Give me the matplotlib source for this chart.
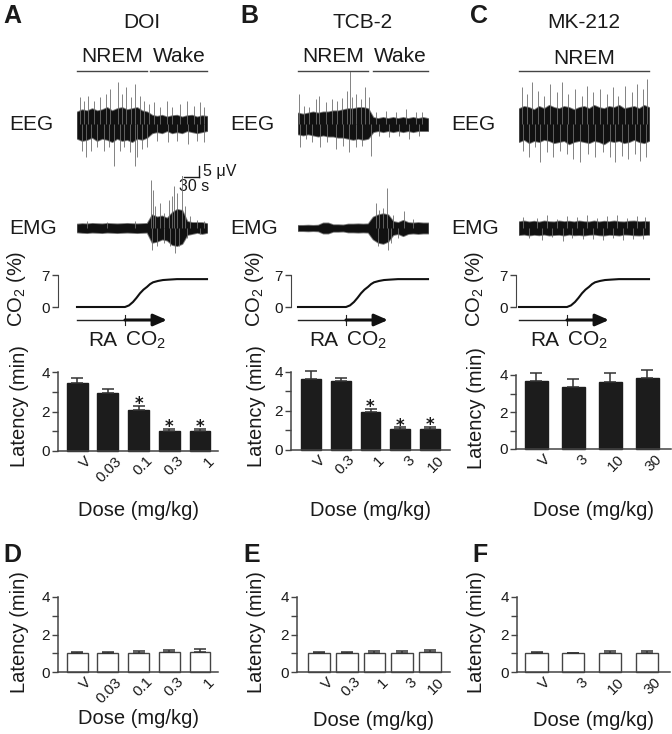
import matplotlib
matplotlib.use('Agg')
import matplotlib.pyplot as plt
import numpy as np
from matplotlib.transforms import ScaledTranslation

plt.rcParams['font.family'] = ['Liberation Sans', 'DejaVu Sans']
plt.rcParams['mathtext.fontset'] = 'custom'
plt.rcParams['mathtext.rm'] = 'Liberation Sans'
plt.rcParams['mathtext.it'] = 'Liberation Sans:italic'

# ---------------- data ----------------
drugs = ['DOI', 'TCB-2', 'MK-212']
doses_A = ['V', '0.03', '0.1', '0.3', '1']
doses_B = ['V', '0.3', '1', '3', '10']
doses_C = ['V', '3', '10', '30']

lat_A = [3.42, 2.96, 2.08, 0.99, 1.00]
err_A = [0.30, 0.17, 0.20, 0.11, 0.13]
sig_A = [0, 0, 1, 1, 1]
lat_B = [3.64, 3.52, 1.97, 1.06, 1.07]
err_B = [0.42, 0.16, 0.15, 0.10, 0.11]
sig_B = [0, 0, 1, 1, 1]
lat_C = [3.68, 3.37, 3.64, 3.85]
err_C = [0.41, 0.41, 0.45, 0.42]
sig_C = [0, 0, 0, 0]
lat_D = [1.00, 1.00, 1.00, 1.05, 1.08]
err_D = [0.07, 0.06, 0.12, 0.12, 0.15]
lat_E = [1.00, 1.00, 1.00, 1.03, 1.07]
err_E = [0.07, 0.05, 0.10, 0.08, 0.09]
lat_F = [1.00, 1.00, 1.00, 1.03]
err_F = [0.05, 0.04, 0.10, 0.09]

# CO2 challenge profile (s, %)
co2_t = [0, 96, 104, 112, 119, 126, 133, 140, 146, 152, 162, 172, 185, 200, 260]
co2_v = [0, 0, 0.35, 1.1, 2.0, 3.0, 3.8, 4.4, 5.0, 5.4, 5.7, 5.9, 6.0, 6.1, 6.1]

# trace envelopes and excursions (s, uV)
trace_t = list(range(0, 261, 10))
A_eeg_hi = [5.5, 6.5, 6.0, 7.0, 6.0, 6.5, 7.5, 6.0, 7.0, 7.5, 6.5, 7.0, 7.5, 6.0, 5.5, 4.0, 3.5, 4.0, 3.2, 3.8, 4.0, 3.2, 3.8, 4.0, 3.2, 3.8, 3.5]
A_eeg_lo = [-6.5, -7.5, -7.0, -6.0, -7.5, -6.5, -7.0, -8.0, -6.5, -7.5, -7.0, -8.0, -6.5, -7.0, -6.0, -4.0, -3.5, -4.0, -3.0, -4.0, -3.5, -4.0, -3.0, -3.5, -4.0, -3.5, -3.0]
A_eeg_spk_t = [6.7, 13.3, 21.3, 33.3, 46.7, 58.7, 66.7, 81.3, 90, 98.7, 108, 116.7, 126.7, 134.7, 143.3,
               154.7, 166.7, 180, 190, 206.7, 220, 233.3, 245.3, 254.7,
               10, 18.7, 28, 40, 53.3, 63.3, 73.3, 85.3, 94.7, 105.3, 115.3, 120, 130, 140,
               160, 181, 200, 221, 240, 253.3]
A_eeg_spk_v = [12.1, 10.6, 12.9, 10.6, 12.1, 13.6, 15.9, 18.9, 13.6, 17.0, 12.1, 18.2, 12.9, 10.6, 9.0,
               9.8, 7.6, 10.6, 7.6, 9.0, 10.6, 8.3, 9.8, 7.6,
               -12.1, -15.2, -12.1, -10.6, -12.1, -10.6, -18.9, -12.1, -10.6, -12.9, -18.9, -15.2, -11.4, -10.6,
               -7.6, -8.3, -7.6, -9.0, -7.6, -8.3]
B_eeg_hi = [5.0, 4.5, 5.0, 5.5, 5.0, 5.5, 5.5, 6.0, 6.0, 6.5, 7.0, 7.0, 7.5, 7.5, 7.0, 3.0, 2.5, 3.0, 2.5, 3.0, 2.5, 3.0, 2.5, 3.0, 2.5, 3.0, 2.5]
B_eeg_lo = [-4.5, -5.0, -4.5, -5.0, -5.5, -5.0, -5.5, -5.5, -6.0, -6.0, -6.5, -7.0, -6.5, -7.0, -6.5, -3.5, -3.0, -3.5, -3.0, -3.5, -3.0, -3.5, -3.0, -3.5, -3.0, -3.0, -3.0]
B_eeg_spk_t = [2, 12, 22, 35.3, 42, 55.3, 68.7, 78.7, 88.7, 98.7, 103.3, 108.7, 116.7, 125.3, 133.3, 142,
               155.3, 175.3, 195.3, 215.3, 235.3, 248.7,
               3, 15.3, 28.7, 43, 58.7, 75.3, 89.7, 102, 115.3, 128.7, 145.3, 162, 182, 202, 222, 242]
B_eeg_spk_v = [13.6, 8.3, 7.6, 11.4, 12.9, 9.8, 11.4, 10.6, 12.0, 15.0, 24.0, 12.1, 13.6, 11.4, 16.7, 12.1,
               5.3, 6.0, 5.3, 6.8, 5.3, 5.3,
               -10.6, -6.8, -8.3, -10.6, -8.3, -11.4, -9.8, -12.6, -10.6, -9.8, -14.4, -5.3, -6.0, -5.3, -6.8, -5.3]
C_eeg_hi = [7.0, 8.0, 7.5, 6.5, 8.0, 7.0, 8.5, 7.5, 7.0, 8.0, 7.5, 6.5, 7.5, 8.0, 7.0, 8.5, 7.5, 7.0, 8.0, 7.5, 8.5, 7.0, 7.5, 8.0, 7.0, 8.5, 7.5]
C_eeg_lo = [-8.0, -7.0, -8.5, -7.5, -8.0, -7.0, -7.5, -8.5, -8.0, -7.5, -9.0, -8.0, -7.5, -8.0, -8.5, -7.5, -8.0, -9.0, -7.5, -8.0, -7.5, -8.5, -8.0, -7.0, -8.0, -8.5, -7.5]
C_eeg_spk_t = [5.3, 16.7, 25.3, 38.7, 50, 62, 75.3, 85.3, 98.7, 112, 125.3, 135.3, 148.7, 162, 175.3, 188.7,
               198.7, 212, 225.3, 236.7, 248.7, 256.7,
               8.7, 20.7, 32, 42, 55.3, 68.7, 82, 95.3, 108.7, 122, 138.7, 152, 168.7, 182, 192, 205.3,
               218.7, 232, 242, 254, 259.3]
C_eeg_spk_v = [16.7, 13.6, 18.9, 15.2, 12.9, 18.2, 14.4, 18.9, 13.6, 15.9, 12.9, 17.4, 14.4, 15.9, 13.6, 16.7,
               12.9, 17.4, 14.4, 18.2, 15.9, 20.5,
               -12.1, -15.2, -10.6, -17.4, -12.9, -15.2, -12.1, -13.6, -15.9, -17.4, -13.6, -15.2, -12.9,
               -15.2, -17.4, -14.4, -15.9, -13.6, -16.7, -15.2, -18.2]

A_emg_hi = [1.8, 2.0, 1.9, 2.1, 2.0, 1.9, 2.1, 2.0, 1.9, 2.0, 2.1, 2.0, 1.9, 2.0, 2.1, 6.0, 5.0, 5.5, 4.5, 7.0, 8.5, 8.0, 3.0, 2.5, 2.5, 2.5, 2.0]
A_emg_lo = [-1.8, -2.0, -2.1, -1.9, -2.0, -2.1, -1.9, -2.0, -2.1, -2.0, -1.9, -2.0, -2.1, -2.0, -1.9, -6.5, -6.0, -5.0, -5.5, -7.5, -8.0, -7.0, -3.0, -2.5, -2.0, -2.5, -2.0]
A_emg_spk_t = [148, 152, 156.7, 166.7, 173.3, 183.3, 190, 194.7, 200, 210, 216.7, 226.7, 240, 254.7,
               20, 60, 115, 150, 160, 173.3, 186.7, 196.7, 203.3, 220, 246.7]
A_emg_spk_v = [22.0, 17.4, 9.8, 11.4, 6.8, 12.9, 14.4, 18.9, 15.9, 24.2, 9.8, 5.3, 3.8, 3.3,
               3.0, 2.8, 3.2, -9.8, -8.3, -6.8, -8.3, -11.4, -8.3, -4.5, -2.8]
B_emg_hi = [1.2, 1.2, 1.3, 1.2, 1.3, 2.3, 2.3, 1.5, 1.5, 1.4, 1.8, 1.8, 1.9, 1.8, 1.9, 5.0, 6.0, 6.5, 6.0, 3.0, 2.5, 3.5, 2.5, 2.3, 2.5, 2.3, 2.3]
B_emg_lo = [-1.2, -1.2, -1.3, -1.2, -1.3, -2.3, -2.3, -1.5, -1.5, -1.4, -1.8, -1.8, -1.9, -1.8, -1.9, -5.0, -6.5, -7.0, -6.0, -3.0, -2.5, -3.5, -2.5, -2.3, -2.5, -2.3, -2.3]
B_emg_spk_t = [155.3, 162, 170, 178.7, 179.5, 190, 212, 230, 160, 185, 200]
B_emg_spk_v = [11.4, 8.0, 9.0, 18.0, -10.0, 6.0, 7.6, 4.0, -8.3, -7.0, -4.5]
C_emg_hi = [2.9, 3.2, 2.8, 3.1, 2.7, 3.2, 2.9, 2.8, 3.2, 2.9, 3.1, 2.8, 3.2, 2.9, 2.8, 3.2, 2.8, 3.1, 2.9, 3.2, 2.9, 2.8, 3.1, 3.2, 2.9, 3.0, 2.9]
C_emg_lo = [-3.0, -2.8, -3.2, -2.9, -3.1, -2.8, -3.2, -3.0, -2.9, -3.2, -2.8, -3.1, -3.0, -3.2, -2.9, -2.8, -3.1, -3.2, -2.9, -3.0, -3.2, -2.8, -2.9, -3.1, -3.2, -3.0, -2.9]
C_emg_spk_t = [8.7, 35.3, 55.3, 75.3, 95.3, 115.3, 135.3, 155.3, 175.3, 195.3, 215.3, 235.3, 252,
               20, 45, 65, 88, 105, 128, 148, 168, 188, 208, 228, 248]
C_emg_spk_v = [5.0, 4.5, 5.8, 4.2, 5.3, 4.8, 6.0, 4.5, 5.3, 5.8, 4.5, 5.3, 4.8,
               -4.5, -5.3, -4.2, -5.8, -4.5, -5.0, -4.8, -5.5, -4.5, -5.3, -4.8, -5.0]

# ---------------- layout helpers ----------------
W, H = 672, 734
fig = plt.figure(figsize=(W / 100, H / 100), dpi=100)
TXT = '#1a1a1a'
AX = '#444444'


def px_axes(x0, y0, x1, y1):
    return fig.add_axes([x0 / W, 1 - y1 / H, (x1 - x0) / W, (y1 - y0) / H])


ov = fig.add_axes([0, 0, 1, 1])
ov.set_xlim(0, W)
ov.set_ylim(H, 0)
ov.axis('off')

PX_PER_UV = 2.2
HALF = 52


def trace(x0, yc, t, hi, lo, st, sv):
    ax = px_axes(x0, yc - HALF, x0 + 130, yc + HALF)
    ax.set_xlim(0, 260)
    ax.set_ylim(-HALF / PX_PER_UV, HALF / PX_PER_UV)
    ax.axis('off')
    ax.vlines(st, 0, sv, color='#6e6e6e', lw=0.6)
    ax.fill_between(t, lo, hi, color='#707070', lw=1.3, edgecolor='#7a7a7a')
    ax.fill_between(t, lo, hi, color='#111111', lw=0.0)
    return ax


trace_x0 = [77, 298, 519]
eeg_sets = [(A_eeg_hi, A_eeg_lo, A_eeg_spk_t, A_eeg_spk_v),
            (B_eeg_hi, B_eeg_lo, B_eeg_spk_t, B_eeg_spk_v),
            (C_eeg_hi, C_eeg_lo, C_eeg_spk_t, C_eeg_spk_v)]
emg_sets = [(A_emg_hi, A_emg_lo, A_emg_spk_t, A_emg_spk_v),
            (B_emg_hi, B_emg_lo, B_emg_spk_t, B_emg_spk_v),
            (C_emg_hi, C_emg_lo, C_emg_spk_t, C_emg_spk_v)]
co2_spine = [58, 291, 516]
label_x = [3, 240, 470]

for i in range(3):
    x0 = trace_x0[i]
    ov.text(label_x[i], 16, 'ABC'[i], fontsize=18, fontweight='bold', ha='left', va='center', color=TXT)
    ov.text(x0 + 65, 23, drugs[i], fontsize=15, ha='center', va='center', color=TXT)
    if i < 2:
        ov.plot([x0, x0 + 70], [71, 71], color=AX, lw=1)
        ov.plot([x0 + 75 if i == 1 else x0 + 73, x0 + 130], [71, 71], color=AX, lw=1)
        ov.text(x0 + 35, 57, 'NREM', fontsize=15, ha='center', va='center', color=TXT)
        ov.text(x0 + 102, 57, 'Wake', fontsize=15, ha='center', va='center', color=TXT)
    else:
        ov.plot([x0, x0 + 130], [71, 71], color=AX, lw=1)
        ov.text(x0 + 65, 58, 'NREM', fontsize=15, ha='center', va='center', color=TXT)
    ov.text(x0 - 46, 124, 'EEG', fontsize=15, ha='center', va='center', color=TXT)
    ov.text(x0 - 44, 228, 'EMG', fontsize=15, ha='center', va='center', color=TXT)

    eax = trace(x0, 124, trace_t, *eeg_sets[i])
    trace(x0, 228, trace_t, *emg_sets[i])

    if i == 0:
        # scale bar 5 uV / 30 s
        yb = -(177 - 124) / PX_PER_UV
        eax.plot([244, 244], [yb, yb + 5], color=TXT, lw=1, clip_on=False)
        eax.plot([214, 244], [yb, yb], color=TXT, lw=1, clip_on=False)
        eax.text(252, yb + 2.5, '5 \u03bcV', fontsize=11.5, ha='left', va='center', color=TXT, clip_on=False)
        eax.text(234, yb - 4.4, '30 s', fontsize=11.5, ha='center', va='center', color=TXT, clip_on=False)

    # CO2 panel
    sx = co2_spine[i]
    cax = px_axes(sx, 270, x0 + 130, 312)
    cax.set_xlim(-(x0 - sx) * 2, 260)
    cax.set_ylim(-5 / 4.57, 37 / 4.57)
    cax.plot(co2_t, co2_v, color='#111111', lw=1.5, clip_on=False)
    for s in ['top', 'right', 'bottom']:
        cax.spines[s].set_visible(False)
    cax.spines['left'].set_bounds(0, 7)
    cax.spines['left'].set_color(AX)
    cax.set_xticks([])
    cax.set_yticks([0, 7])
    cax.tick_params(axis='y', length=4, width=1, color=AX, labelsize=11, pad=2, labelcolor=TXT)
    cax.patch.set_alpha(0)
    fig.text([17, 254, 475][i] / W, 1 - 289 / H, r'CO$_2$ (%)', rotation=90, fontsize=14.5,
             ha='center', va='center', color=TXT)

    # RA -> CO2 arrow
    ov.plot([x0, x0 + 48], [320, 320], color='#222222', lw=1)
    ov.plot([x0 + 48, x0 + 48], [315, 325], color='#222222', lw=0.8)
    ov.annotate('', xy=(x0 + 90, 320), xytext=(x0 + 48, 320),
                arrowprops=dict(arrowstyle='-|>,head_length=0.8,head_width=0.35', lw=2.2, color='#111111',
                                shrinkA=0, shrinkB=0))
    ov.text(x0 + 26, 340, 'RA', fontsize=15, ha='center', va='center', color=TXT)
    ov.text(x0 + 68, 340, r'CO$_2$', fontsize=15, ha='center', va='center', color=TXT)


def bar_panel(rect, labels, vals, errs, sig, filled, xlim, width, ylab_xy, dose_y):
    ax = px_axes(*rect)
    x = np.arange(len(labels))
    if filled:
        ax.bar(x, vals, width=width, color='#1c1c1c', edgecolor='#1c1c1c', lw=1, zorder=2, clip_on=False)
    else:
        ax.bar(x, vals, width=width, color='white', edgecolor='#444444', lw=1, zorder=2, clip_on=False)
    ax.errorbar(x, vals, yerr=[np.zeros(len(vals)), errs], fmt='none', ecolor='#333333',
                elinewidth=1.1, capsize=4, capthick=1.1, zorder=3, clip_on=False)
    for xi, v, e, s in zip(x, vals, errs, sig):
        if s:
            ax.annotate('*', (xi, v + e), xytext=(0, -2.3), textcoords='offset points',
                        ha='center', va='baseline', fontsize=12, fontweight='bold',
                        family='DejaVu Sans', color=TXT)
    ax.set_xlim(*xlim)
    ax.set_ylim(0, 4)
    for s in ['top', 'right']:
        ax.spines[s].set_visible(False)
    for s in ['left', 'bottom']:
        ax.spines[s].set_color(AX)
        ax.spines[s].set_linewidth(1.1)
    ax.patch.set_alpha(0)
    ax.set_yticks([0, 2, 4])
    ax.set_yticks([1, 3], minor=True)
    ax.tick_params(axis='y', which='both', length=4, width=1, color=AX, labelsize=11, pad=2, labelcolor=TXT)
    ax.set_xticks(x)
    ax.set_xticklabels(labels, rotation=45, ha='right', va='top', rotation_mode='anchor')
    ax.tick_params(axis='x', length=0, labelsize=11, pad=2, labelcolor=TXT)
    off = ScaledTranslation(7 / 100, 0, fig.dpi_scale_trans)
    for lab in ax.get_xticklabels():
        lab.set_transform(lab.get_transform() + off)
    fig.text(ylab_xy[0] / W, 1 - ylab_xy[1] / H, 'Latency (min)', rotation=90, fontsize=14.5,
             ha='center', va='center', color=TXT)
    fig.text(((rect[0] + rect[2]) / 2) / W, 1 - dose_y / H, 'Dose (mg/kg)', fontsize=14.5,
             ha='center', va='center', color=TXT)
    return ax


bar_panel((58, 372, 218, 451), doses_A, lat_A, err_A, sig_A, True, (-0.62, 4.585), 0.68, (20, 406), 511)
bar_panel((291, 372, 450, 450), doses_B, lat_B, err_B, sig_B, True, (-0.67, 4.67), 0.67, (256, 406), 511)
bar_panel((516, 375, 671, 449), doses_C, lat_C, err_C, sig_C, True, (-0.55, 3.64), 0.62, (476, 408), 511)
bar_panel((58, 597, 218, 672), doses_A, lat_D, err_D, [0] * 5, False, (-0.62, 4.585), 0.68, (20, 632), 719)
bar_panel((297, 597, 450, 672), doses_B, lat_E, err_E, [0] * 5, False, (-0.79, 4.72), 0.79, (256, 632), 720)
bar_panel((517, 597, 670, 672), doses_C, lat_F, err_F, [0] * 4, False, (-0.53, 3.62), 0.6, (476, 632), 720)

for lx, lt in zip([3, 243, 472], 'DEF'):
    ov.text(lx, 555, lt, fontsize=18, fontweight='bold', ha='left', va='center', color=TXT)

fig.savefig('out.png', dpi=100)
